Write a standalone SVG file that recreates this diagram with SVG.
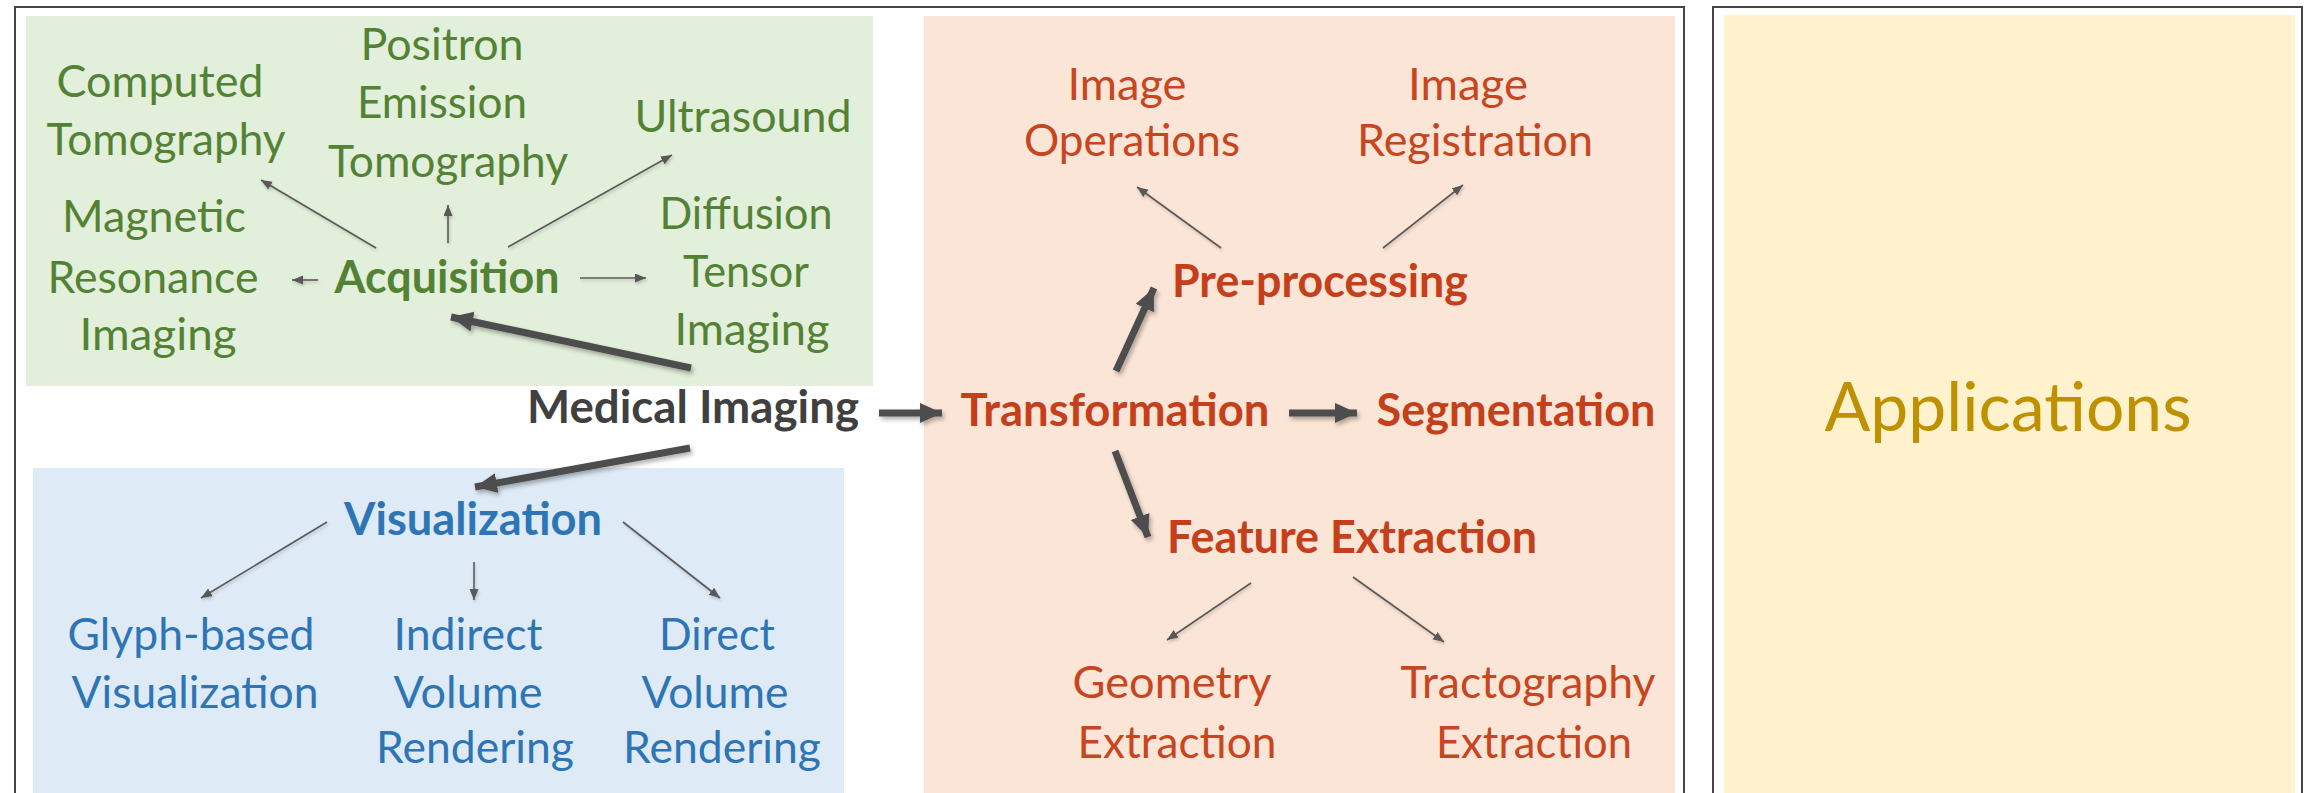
<svg xmlns="http://www.w3.org/2000/svg" width="2305" height="793" viewBox="0 0 2305 793">
<style>
text{font-family:Lato,"Open Sans","Liberation Sans",sans-serif;font-size:45px;text-anchor:middle}
.b{font-weight:bold}
.g{fill:#548235}
.bl{fill:#2E75B6}
.o{fill:#C8461F}
.ob{fill:#C5401A}
.k{fill:#404040}
.app{fill:#BF9000;font-size:68px}
.frame{fill:none;stroke:#454545;stroke-width:2}
.thin{stroke:#595959;stroke-width:1.6;fill:none;marker-end:url(#ah)}
.thick{stroke:#4D4D4D;stroke-width:7;fill:none;marker-end:url(#AH)}
</style>
<defs>
<marker id="ah" markerUnits="userSpaceOnUse" markerWidth="13" markerHeight="11" refX="11" refY="4.5" orient="auto">
<path d="M0,0 L11,4.5 L0,9 z" fill="#595959"/>
</marker>
<marker id="AH" markerUnits="userSpaceOnUse" markerWidth="24" markerHeight="22" refX="22" refY="10" orient="auto">
<path d="M0,0 L22,10 L0,20 z" fill="#4D4D4D"/>
</marker>
<filter id="sh" filterUnits="userSpaceOnUse" x="0" y="0" width="2305" height="793">
<feDropShadow dx="2" dy="3" stdDeviation="2" flood-color="#000" flood-opacity="0.3"/>
</filter>
<filter id="sh2" filterUnits="userSpaceOnUse" x="0" y="0" width="2305" height="793">
<feDropShadow dx="1" dy="2" stdDeviation="1.5" flood-color="#000" flood-opacity="0.2"/>
</filter>
</defs>
<rect width="2305" height="793" fill="#FFFFFF"/>
<g id="frames">
<rect class="frame" x="15" y="7" width="1669" height="800"/>
<rect class="frame" x="1713" y="7" width="589" height="800"/>
</g>
<g id="panels">
<rect x="26" y="16" width="847" height="370" fill="#E2EFDA"/>
<rect x="33" y="468" width="811" height="330" fill="#DEEBF7"/>
<rect x="924" y="16" width="751" height="780" fill="#FBE5D6"/>
<rect x="1724" y="15" width="571" height="780" fill="#FFF2CC"/>
</g>
<g id="connectors">
<g filter="url(#sh)">
<line class="thick" x1="691" y1="368" x2="451" y2="317"/>
<line class="thick" x1="690" y1="448" x2="475" y2="487"/>
<line class="thick" x1="879" y1="413" x2="942" y2="413"/>
<line class="thick" x1="1116" y1="371" x2="1154" y2="288"/>
<line class="thick" x1="1289" y1="413" x2="1357" y2="413"/>
<line class="thick" x1="1115" y1="451" x2="1148" y2="537"/>
</g>
<g filter="url(#sh2)">
<line class="thin" x1="376" y1="248" x2="261" y2="180"/>
<line class="thin" x1="448" y1="243" x2="448" y2="205"/>
<line class="thin" x1="508" y1="247" x2="672" y2="155"/>
<line class="thin" x1="318" y1="280" x2="292" y2="280"/>
<line class="thin" x1="580" y1="278" x2="646" y2="278"/>
<line class="thin" x1="327" y1="522" x2="201" y2="598"/>
<line class="thin" x1="474" y1="562" x2="474" y2="600"/>
<line class="thin" x1="623" y1="522" x2="720" y2="598"/>
<line class="thin" x1="1221" y1="248" x2="1137" y2="187"/>
<line class="thin" x1="1383" y1="248" x2="1463" y2="185"/>
<line class="thin" x1="1251" y1="583" x2="1167" y2="640"/>
<line class="thin" x1="1353" y1="577" x2="1444" y2="642"/>
</g>
</g>
<g id="medical-imaging"><text class="b k" x="693" y="423" textLength="332" lengthAdjust="spacingAndGlyphs">Medical Imaging</text></g>
<g id="acquisition"><text class="b g" x="447" y="293" textLength="225" lengthAdjust="spacingAndGlyphs">Acquisition</text></g>
<g id="computed-tomography">
<text class="g" x="160" y="97" textLength="207" lengthAdjust="spacingAndGlyphs">Computed</text>
<text class="g" x="166" y="155" textLength="239" lengthAdjust="spacingAndGlyphs">Tomography</text>
</g>
<g id="positron-emission-tomography">
<text class="g" x="442" y="60" textLength="163" lengthAdjust="spacingAndGlyphs">Positron</text>
<text class="g" x="442" y="118" textLength="170" lengthAdjust="spacingAndGlyphs">Emission</text>
<text class="g" x="448" y="177" textLength="240" lengthAdjust="spacingAndGlyphs">Tomography</text>
</g>
<g id="ultrasound"><text class="g" x="743" y="132" textLength="217" lengthAdjust="spacingAndGlyphs">Ultrasound</text></g>
<g id="magnetic-resonance-imaging">
<text class="g" x="154" y="232" textLength="184" lengthAdjust="spacingAndGlyphs">Magnetic</text>
<text class="g" x="153" y="293" textLength="211" lengthAdjust="spacingAndGlyphs">Resonance</text>
<text class="g" x="158" y="350" textLength="157" lengthAdjust="spacingAndGlyphs">Imaging</text>
</g>
<g id="diffusion-tensor-imaging">
<text class="g" x="746" y="229" textLength="173" lengthAdjust="spacingAndGlyphs">Diffusion</text>
<text class="g" x="746" y="287" textLength="126" lengthAdjust="spacingAndGlyphs">Tensor</text>
<text class="g" x="752" y="345" textLength="155" lengthAdjust="spacingAndGlyphs">Imaging</text>
</g>
<g id="visualization"><text class="b bl" x="473" y="535" textLength="258" lengthAdjust="spacingAndGlyphs">Visualization</text></g>
<g id="glyph-based-visualization">
<text class="bl" x="191" y="650" textLength="247" lengthAdjust="spacingAndGlyphs">Glyph-based</text>
<text class="bl" x="195" y="708" textLength="247" lengthAdjust="spacingAndGlyphs">Visualization</text>
</g>
<g id="indirect-volume-rendering">
<text class="bl" x="468" y="650" textLength="149" lengthAdjust="spacingAndGlyphs">Indirect</text>
<text class="bl" x="468" y="708" textLength="149" lengthAdjust="spacingAndGlyphs">Volume</text>
<text class="bl" x="475" y="763" textLength="198" lengthAdjust="spacingAndGlyphs">Rendering</text>
</g>
<g id="direct-volume-rendering">
<text class="bl" x="717" y="650" textLength="116" lengthAdjust="spacingAndGlyphs">Direct</text>
<text class="bl" x="715" y="708" textLength="147" lengthAdjust="spacingAndGlyphs">Volume</text>
<text class="bl" x="722" y="763" textLength="198" lengthAdjust="spacingAndGlyphs">Rendering</text>
</g>
<g id="transformation"><text class="b ob" x="1115" y="426" textLength="309" lengthAdjust="spacingAndGlyphs">Transformation</text></g>
<g id="pre-processing"><text class="b ob" x="1320" y="297" textLength="296" lengthAdjust="spacingAndGlyphs">Pre-processing</text></g>
<g id="segmentation"><text class="b ob" x="1516" y="426" textLength="279" lengthAdjust="spacingAndGlyphs">Segmentation</text></g>
<g id="feature-extraction"><text class="b ob" x="1352" y="553" textLength="370" lengthAdjust="spacingAndGlyphs">Feature Extraction</text></g>
<g id="image-operations">
<text class="o" x="1127" y="100" textLength="119" lengthAdjust="spacingAndGlyphs">Image</text>
<text class="o" x="1132" y="156" textLength="216" lengthAdjust="spacingAndGlyphs">Operations</text>
</g>
<g id="image-registration">
<text class="o" x="1468" y="100" textLength="120" lengthAdjust="spacingAndGlyphs">Image</text>
<text class="o" x="1475" y="156" textLength="236" lengthAdjust="spacingAndGlyphs">Registration</text>
</g>
<g id="geometry-extraction">
<text class="o" x="1172" y="698" textLength="199" lengthAdjust="spacingAndGlyphs">Geometry</text>
<text class="o" x="1177" y="758" textLength="199" lengthAdjust="spacingAndGlyphs">Extraction</text>
</g>
<g id="tractography-extraction">
<text class="o" x="1528" y="698" textLength="255" lengthAdjust="spacingAndGlyphs">Tractography</text>
<text class="o" x="1534" y="758" textLength="196" lengthAdjust="spacingAndGlyphs">Extraction</text>
</g>
<g id="applications"><text class="app" x="2008" y="431" textLength="367" lengthAdjust="spacingAndGlyphs">Applications</text></g>
</svg>
